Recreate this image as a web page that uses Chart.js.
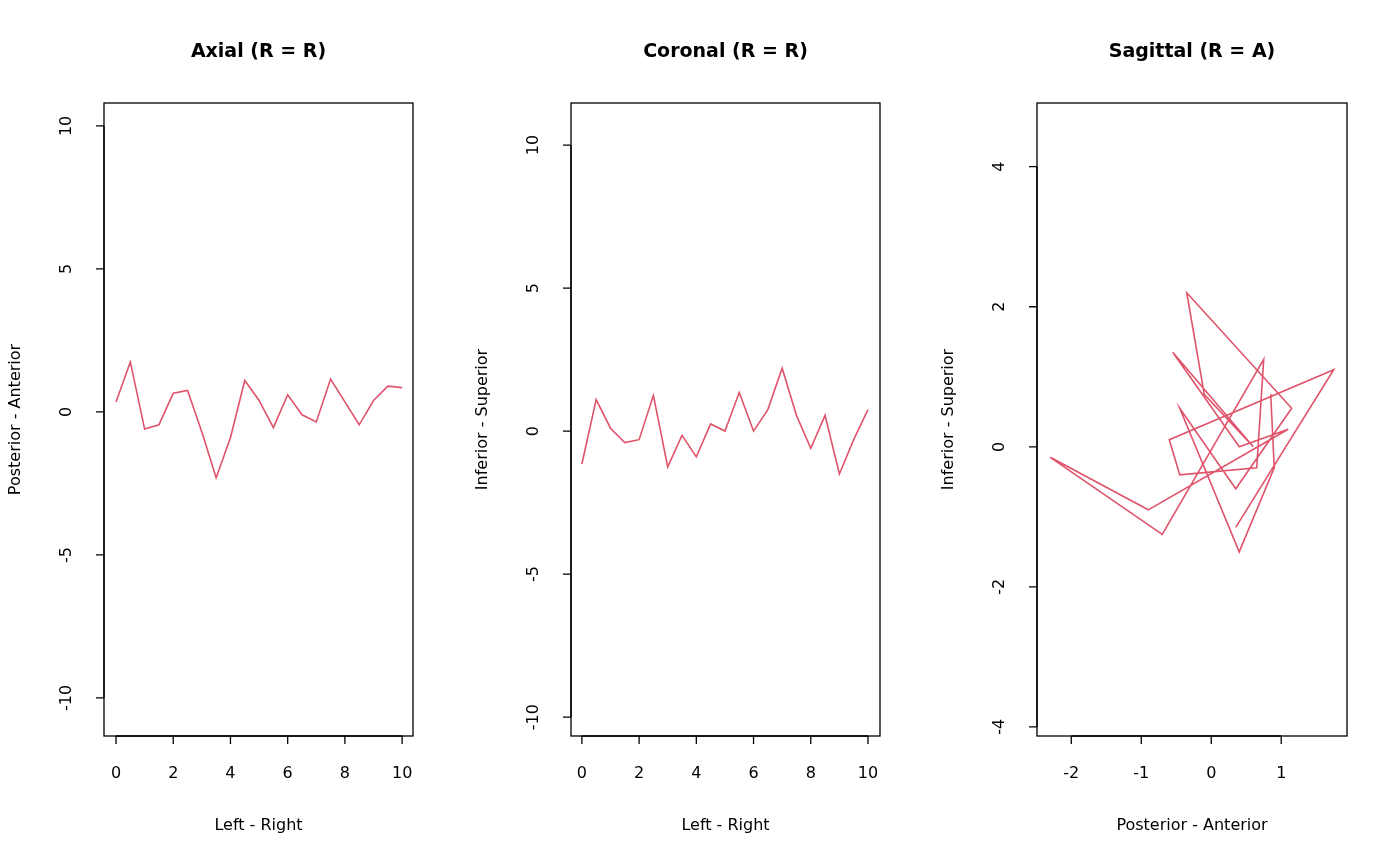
<!DOCTYPE html>
<html><head><meta charset="utf-8">
<script src="https://cdn.jsdelivr.net/npm/chart.js@4"></script>
<style>
body{margin:0;background:#fff;width:1400px;height:866px;overflow:hidden}
canvas{position:absolute;left:0;top:0}
</style></head><body>
<canvas id="c0" width="1400" height="866"></canvas>
<canvas id="c1" width="1400" height="866"></canvas>
<canvas id="c2" width="1400" height="866"></canvas>
<script>
// positions along the left-right axis
const lrPos = [0,0.5,1,1.5,2,2.5,3,3.5,4,4.5,5,5.5,6,6.5,7,7.5,8,8.5,9,9.5,10];
// posterior-anterior values
const paVals = [0.35,1.75,-0.6,-0.45,0.65,0.75,-0.7,-2.3,-0.9,1.1,0.4,-0.55,0.6,-0.1,-0.35,1.15,0.35,-0.45,0.4,0.9,0.85];
// inferior-superior values
const isVals = [-1.15,1.1,0.1,-0.4,-0.3,1.25,-1.25,-0.15,-0.9,0.25,0,1.35,0,0.75,2.2,0.55,-0.6,0.55,-1.5,-0.3,0.75];

const lrTicks = [0,2,4,6,8,10];
const bigTicks = [-10,-5,0,5,10];
const sagXTicks = [-2,-1,0,1];
const sagYTicks = [-4,-2,0,2,4];

const LINE = "#DF536B";
const FONT = "DejaVu Sans, sans-serif";

const panels = [
  { id: "c0", title: "Axial (R = R)", xlab: "Left - Right", ylab: "Posterior - Anterior",
    box: [104, 413, 103, 736], x: [-0.42, 10.38], y: [-11.33, 10.8],
    xt: lrTicks, yt: bigTicks, pts: lrPos.map((v, i) => ({ x: v, y: paVals[i] })) },
  { id: "c1", title: "Coronal (R = R)", xlab: "Left - Right", ylab: "Inferior - Superior",
    box: [571, 880, 103, 736], x: [-0.38, 10.42], y: [-10.66, 11.47],
    xt: lrTicks, yt: bigTicks, pts: lrPos.map((v, i) => ({ x: v, y: isVals[i] })) },
  { id: "c2", title: "Sagittal (R = A)", xlab: "Posterior - Anterior", ylab: "Inferior - Superior",
    box: [1037, 1347, 103, 736], x: [-2.49, 1.94], y: [-4.13, 4.91],
    xt: sagXTicks, yt: sagYTicks, pts: paVals.map((v, i) => ({ x: v, y: isVals[i] })) },
];

const rAxes = {
  id: "rAxes",
  afterDraw(chart, args, p) {
    const ctx = chart.ctx, a = chart.chartArea;
    const xs = chart.scales.x, ys = chart.scales.y;
    ctx.save();
    ctx.strokeStyle = "#000"; ctx.fillStyle = "#000"; ctx.lineWidth = 1.3;
    ctx.strokeRect(a.left, a.top, a.right - a.left, a.bottom - a.top);
    // x axis
    ctx.beginPath();
    ctx.moveTo(xs.getPixelForValue(p.xt[0]), a.bottom);
    ctx.lineTo(xs.getPixelForValue(p.xt[p.xt.length - 1]), a.bottom);
    p.xt.forEach(t => { const px = xs.getPixelForValue(t); ctx.moveTo(px, a.bottom); ctx.lineTo(px, a.bottom + 8); });
    // y axis
    ctx.moveTo(a.left, ys.getPixelForValue(p.yt[0]));
    ctx.lineTo(a.left, ys.getPixelForValue(p.yt[p.yt.length - 1]));
    p.yt.forEach(t => { const py = ys.getPixelForValue(t); ctx.moveTo(a.left, py); ctx.lineTo(a.left - 8, py); });
    ctx.stroke();
    ctx.font = "16px " + FONT; ctx.textAlign = "center"; ctx.textBaseline = "middle";
    p.xt.forEach(t => ctx.fillText(String(t), xs.getPixelForValue(t), a.bottom + 38));
    p.yt.forEach(t => {
      ctx.save(); ctx.translate(a.left - 37, ys.getPixelForValue(t)); ctx.rotate(-Math.PI / 2);
      ctx.fillText(String(t), 0, 0); ctx.restore();
    });
    const cx = (a.left + a.right) / 2, cy = (a.top + a.bottom) / 2;
    ctx.fillText(p.xlab, cx, a.bottom + 90);
    ctx.save(); ctx.translate(a.left - 88, cy); ctx.rotate(-Math.PI / 2);
    ctx.fillText(p.ylab, 0, 0); ctx.restore();
    ctx.font = "bold 19px " + FONT;
    ctx.fillText(p.title, cx, 52);
    ctx.restore();
  }
};

panels.forEach(p => {
  const [l, r, t, b] = p.box;
  new Chart(document.getElementById(p.id), {
    type: "scatter",
    data: { datasets: [{ data: p.pts, showLine: true, borderColor: LINE, borderWidth: 1.6,
      pointRadius: 0, tension: 0, fill: false }] },
    options: {
      responsive: false, animation: false, devicePixelRatio: 1,
      layout: { padding: { left: l, right: 1400 - r, top: t, bottom: 866 - b } },
      plugins: { legend: { display: false }, tooltip: { enabled: false }, rAxes: p },
      scales: {
        x: { type: "linear", display: false, min: p.x[0], max: p.x[1] },
        y: { type: "linear", display: false, min: p.y[0], max: p.y[1] },
      },
    },
    plugins: [rAxes],
  });
});
</script>
</body></html>
